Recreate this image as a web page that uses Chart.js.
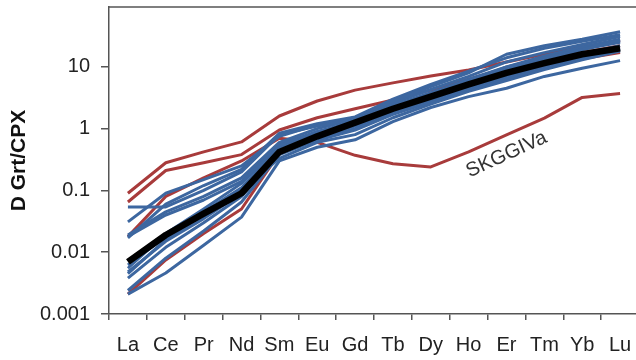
<!DOCTYPE html>
<html>
<head>
<meta charset="utf-8">
<script src="https://cdn.jsdelivr.net/npm/chart.js@4.4.1/dist/chart.umd.min.js"></script>
<style>
  html, body { margin: 0; padding: 0; background: #fff; overflow: hidden; }
  #chart { display: block; }
</style>
</head>
<body>
<canvas id="chart" width="644" height="360"></canvas>
<script>
// REE partition coefficients, garnet / clinopyroxene
const elements = ['La', 'Ce', 'Pr', 'Nd', 'Sm', 'Eu', 'Gd', 'Tb', 'Dy', 'Ho', 'Er', 'Tm', 'Yb', 'Lu'];
const yTickValues = [0.001, 0.01, 0.1, 1, 10];

// thick black line (average)
const average = [0.007, 0.019, 0.042, 0.09, 0.42, 0.75, 1.25, 2.1, 3.3, 5.2, 8.0, 11.5, 16, 20];

// red samples
const red1 = [0.09, 0.28, 0.42, 0.61, 1.6, 2.8, 4.2, 5.5, 7.1, 8.9, 12, 16, 21, 27];
const red2 = [0.065, 0.21, 0.28, 0.38, 0.95, 1.5, 2.1, 2.9, 4.2, 6.3, 9.5, 13, 17, 22];
const skggiva = [0.018, 0.08, 0.16, 0.3, 0.7, 0.6, 0.37, 0.27, 0.24, 0.42, 0.79, 1.48, 3.2, 3.7];
const red4 = [0.0021, 0.0075, 0.02, 0.05, 0.4, 0.75, 1.2, 2.0, 3.1, 4.5, 6.5, 10, 13.5, 17];

// blue samples
const blue1 = [0.054, 0.054, 0.1, 0.2, 0.8, 1.1, 1.4, 2.4, 3.8, 6.0, 10, 14, 19, 27];
const blue2 = [0.031, 0.09, 0.15, 0.25, 0.75, 1.15, 1.5, 2.8, 4.8, 8.0, 16, 22, 28, 37];
const blue3 = [0.019, 0.045, 0.08, 0.16, 0.6, 1.0, 1.4, 2.6, 4.3, 7.0, 12, 17, 23, 31];
const blue4 = [0.018, 0.04, 0.07, 0.14, 0.55, 0.9, 1.3, 2.3, 3.8, 6.3, 10, 15, 21, 28];
const blue5 = [0.0062, 0.018, 0.045, 0.11, 0.5, 0.8, 1.2, 2.1, 3.4, 5.6, 9, 13, 19, 25];
const blue6 = [0.0048, 0.015, 0.035, 0.09, 0.45, 0.75, 1.1, 1.9, 3.0, 5.0, 7.5, 11, 16, 22];
const blue7 = [0.0038, 0.012, 0.03, 0.08, 0.4, 0.7, 1.0, 1.8, 2.8, 4.6, 7.0, 10.5, 15, 20];
const blue8 = [0.0024, 0.008, 0.022, 0.065, 0.38, 0.65, 0.95, 1.7, 2.7, 4.3, 6.5, 9.5, 14, 19];
const blue9 = [0.0021, 0.0046, 0.013, 0.037, 0.3, 0.5, 0.66, 1.3, 2.2, 3.3, 4.5, 7.0, 9.5, 12.6];
const blue10 = [0.0055, 0.02, 0.05, 0.13, 0.55, 0.85, 1.25, 2.2, 3.6, 6.0, 9.5, 14, 20, 26];
const blue11 = [0.0045, 0.016, 0.04, 0.1, 0.33, 0.6, 0.8, 1.5, 2.5, 4.0, 6.0, 9.0, 13, 18];
const blue12 = [0.017, 0.06, 0.12, 0.22, 0.84, 1.2, 1.55, 3.0, 5.2, 8.5, 14, 20, 26, 33];

const BLUE = '#3d67a0';
const RED = '#a83b3b';
const AXIS = '#555555';

const blues = [blue1, blue2, blue3, blue4, blue5, blue6, blue7, blue8, blue9, blue10, blue11, blue12];
const reds = [red1, red2, skggiva, red4];

let datasets = [];
datasets.push({ data: average, borderColor: '#000', borderWidth: 6.5, order: 0 });
blues.forEach(b => {
    datasets.push({ data: b, borderColor: BLUE, borderWidth: 3, order: 1 });
});
reds.forEach(r => {
    datasets.push({ data: r, borderColor: RED, borderWidth: 3, order: 2 });
});

// top frame line + sample label
const extras = {
    id: 'extras',
    afterDatasetsDraw(chart) {
        const ctx = chart.ctx;
        const area = chart.chartArea;
        ctx.save();
        ctx.strokeStyle = AXIS;
        ctx.lineWidth = 1.5;
        ctx.beginPath();
        ctx.moveTo(area.left, area.top);
        ctx.lineTo(area.right, area.top);
        ctx.stroke();

        const x = chart.scales.x.getPixelForValue(10.0);
        const y = chart.scales.y.getPixelForValue(0.38);
        ctx.translate(x, y);
        ctx.rotate(-24.5 * Math.PI / 180);
        ctx.fillStyle = '#333';
        ctx.font = '20px "Liberation Sans", Arial, sans-serif';
        ctx.textAlign = 'center';
        ctx.textBaseline = 'middle';
        ctx.fillText('SKGGIVa', 0, 0);
        ctx.restore();
    }
};

new Chart(document.getElementById('chart'), {
    type: 'line',
    data: { labels: elements, datasets: datasets },
    plugins: [extras],
    options: {
        responsive: false,
        animation: false,
        devicePixelRatio: 1,
        layout: { padding: { top: 7, right: 5, left: 0, bottom: 0 } },
        elements: {
            point: { radius: 0 },
            line: { tension: 0, borderCapStyle: 'butt', borderJoinStyle: 'round' }
        },
        plugins: { legend: { display: false }, tooltip: { enabled: false } },
        scales: {
            x: {
                type: 'category',
                offset: true,
                grid: { offset: true, drawOnChartArea: false, drawTicks: true, tickLength: 6, color: AXIS, lineWidth: 1.5 },
                border: { color: AXIS, width: 1.5 },
                ticks: { color: '#222', padding: 13, maxRotation: 0, autoSkip: false,
                         font: { family: '"Liberation Sans", Arial, sans-serif', size: 20 } },
                afterFit: function (scale) {
                    scale.height = 46;
                    scale.paddingLeft = 0;
                    scale.paddingRight = 0;
                }
            },
            y: {
                type: 'logarithmic',
                min: 0.001,
                max: 93,
                afterBuildTicks: function (scale) {
                    scale.ticks = yTickValues.map(v => ({ value: v }));
                },
                grid: { drawOnChartArea: false, drawTicks: true, tickLength: 8, color: AXIS, lineWidth: 1.5 },
                border: { color: AXIS, width: 1.5 },
                ticks: {
                    color: '#222', padding: 11,
                    font: { family: '"Liberation Sans", Arial, sans-serif', size: 20 },
                    callback: function (v) { return String(v); }
                },
                title: {
                    display: true, text: 'D Grt/CPX', color: '#111',
                    padding: { top: 7, bottom: 0 },
                    font: { family: '"Liberation Sans", Arial, sans-serif', size: 21, weight: 'bold' }
                },
                afterFit: function (scale) {
                    scale.width = 109;
                    scale.paddingTop = 0;
                    scale.paddingBottom = 0;
                }
            }
        }
    }
});
</script>
</body>
</html>
